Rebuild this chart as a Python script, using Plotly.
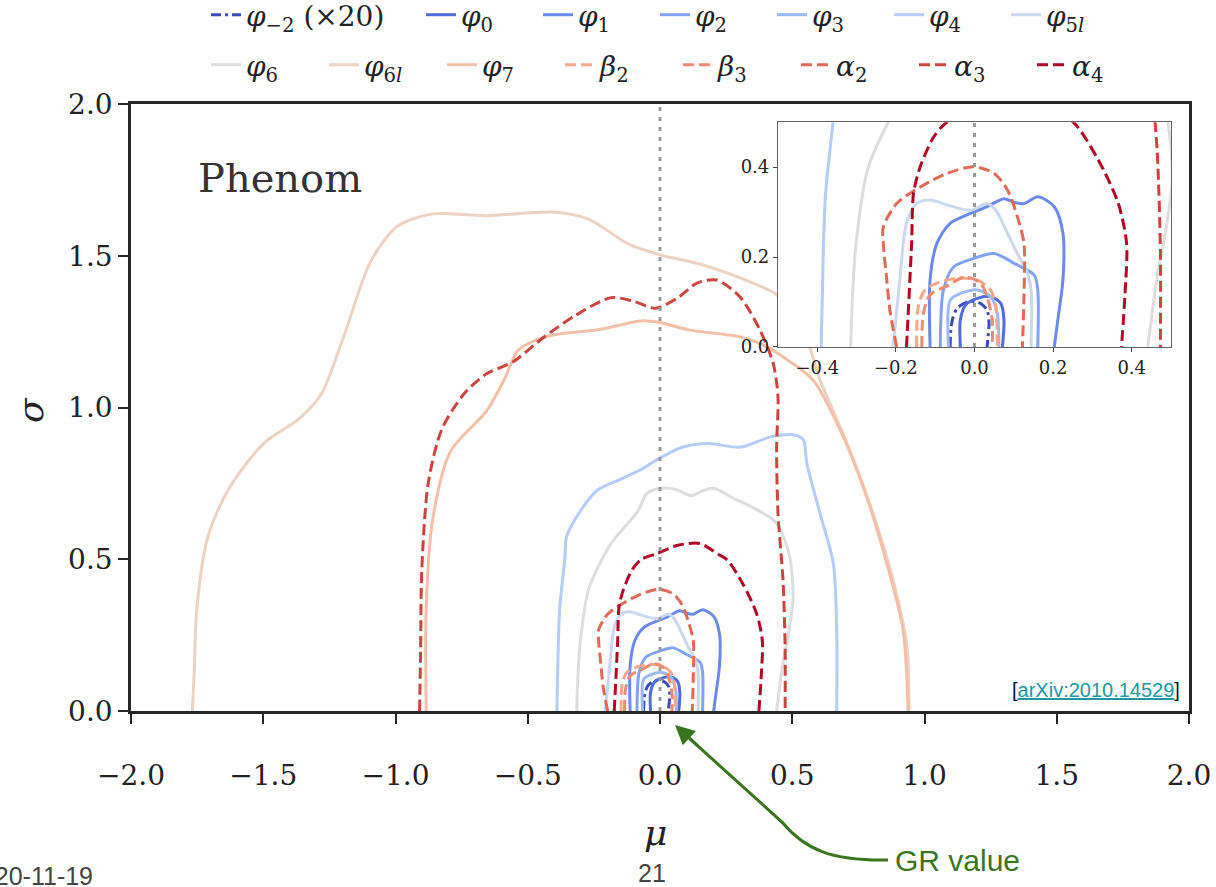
import plotly.graph_objects as go

# ---------------- data ----------------
labels = ["<i>φ</i><sub>−2</sub> (×20)", "<i>φ</i><sub>0</sub>", "<i>φ</i><sub>1</sub>",
          "<i>φ</i><sub>2</sub>", "<i>φ</i><sub>3</sub>", "<i>φ</i><sub>4</sub>",
          "<i>φ</i><sub>5<i>l</i></sub>", "<i>φ</i><sub>6</sub>", "<i>φ</i><sub>6<i>l</i></sub>",
          "<i>φ</i><sub>7</sub>", "<i>β</i><sub>2</sub>", "<i>β</i><sub>3</sub>",
          "<i>α</i><sub>2</sub>", "<i>α</i><sub>3</sub>", "<i>α</i><sub>4</sub>"]

mu_phi_m2 = [-0.062, -0.060, -0.055, -0.044, -0.015, 0.015, 0.032, 0.037, 0.034, 0.032]
sig_phi_m2 = [0.0, 0.040, 0.065, 0.086, 0.101, 0.097, 0.082, 0.053, 0.020, 0.0]

mu_phi0 = [-0.036, -0.036, -0.023, 0.007, 0.041, 0.067, 0.075, 0.071]
sig_phi0 = [0.0, 0.060, 0.093, 0.108, 0.112, 0.097, 0.060, 0.0]

mu_phi1 = [-0.113, -0.113, -0.096, -0.062, -0.010, 0.032, 0.075, 0.100, 0.126, 0.161, 0.203, 0.225, 0.225, 0.212, 0.203]
sig_phi1 = [0.0, 0.149, 0.230, 0.275, 0.297, 0.312, 0.330, 0.322, 0.319, 0.334, 0.312, 0.253, 0.149, 0.060, 0.0]

mu_phi2 = [-0.087, -0.079, -0.053, -0.002, 0.050, 0.101, 0.152, 0.161, 0.161]
sig_phi2 = [0.0, 0.127, 0.178, 0.197, 0.208, 0.186, 0.160, 0.127, 0.0]

mu_phi3 = [-0.066, -0.062, -0.036, 0.007, 0.041, 0.058, 0.062]
sig_phi3 = [0.0, 0.104, 0.119, 0.127, 0.112, 0.075, 0.0]

mu_phi4 = [-0.390, -0.385, -0.379, -0.360, -0.353, -0.302, -0.236, -0.151, -0.067, 0.0, 0.084, 0.185,
           0.302, 0.421, 0.505, 0.542, 0.555, 0.605, 0.655, 0.668, 0.668]
sig_phi4 = [0.0, 0.200, 0.340, 0.500, 0.575, 0.658, 0.728, 0.763, 0.798, 0.834, 0.869, 0.881,
            0.869, 0.904, 0.910, 0.893, 0.816, 0.651, 0.487, 0.267, 0.0]

mu_phi5l = [-0.207, -0.190, -0.173, -0.147, -0.113, -0.070, -0.010, 0.032, 0.054, 0.084, 0.109, 0.135, 0.144, 0.144]
sig_phi5l = [0.0, 0.149, 0.275, 0.319, 0.327, 0.316, 0.304, 0.319, 0.304, 0.253, 0.208, 0.164, 0.127, 0.0]

mu_phi6 = [-0.315, -0.310, -0.302, -0.270, -0.185, -0.084, -0.050, 0.0, 0.060, 0.118, 0.160, 0.202,
           0.280, 0.354, 0.438, 0.488, 0.503, 0.485, 0.465, 0.441]
sig_phi6 = [0.0, 0.120, 0.224, 0.400, 0.552, 0.658, 0.716, 0.734, 0.730, 0.710, 0.725, 0.734,
            0.700, 0.669, 0.622, 0.517, 0.376, 0.250, 0.158, 0.0]

mu_phi6l = [-1.768, -1.760, -1.751, -1.709, -1.633, -1.499, -1.364, -1.280, -1.196, -1.095, -0.993,
            -0.859, -0.657, -0.404, -0.269, -0.118, 0.0, 0.169, 0.354, 0.438, 0.520, 0.567, 0.605,
            0.707, 0.805, 0.881, 0.934, 0.941]
sig_phi6l = [0.0, 0.150, 0.340, 0.575, 0.728, 0.881, 0.963, 1.045, 1.233, 1.479, 1.597,
             1.638, 1.632, 1.644, 1.620, 1.538, 1.503, 1.468, 1.409, 1.374, 1.290, 1.196, 1.091,
             0.883, 0.652, 0.432, 0.211, 0.0]

mu_phi7 = [-0.884, -0.884, -0.859, -0.791, -0.657, -0.589, -0.539, -0.488, -0.404, -0.236, -0.067,
           0.0, 0.113, 0.302, 0.389, 0.465, 0.578, 0.681, 0.781, 0.857, 0.919, 0.938]
sig_phi7 = [0.0, 0.340, 0.634, 0.857, 0.987, 1.092, 1.186, 1.215, 1.239, 1.256, 1.286,
            1.280, 1.255, 1.233, 1.206, 1.167, 1.091, 0.926, 0.706, 0.487, 0.267, 0.0]

mu_beta2 = [-0.147, -0.143, -0.126, -0.087, -0.044, 0.007, 0.041, 0.054, 0.058]
sig_beta2 = [0.0, 0.090, 0.127, 0.145, 0.153, 0.149, 0.127, 0.090, 0.0]

mu_beta3 = [-0.134, -0.130, -0.113, -0.070, -0.023, 0.015, 0.032, 0.045, 0.045]
sig_beta3 = [0.0, 0.075, 0.116, 0.136, 0.156, 0.142, 0.112, 0.060, 0.0]

mu_alpha2 = [-0.198, -0.215, -0.224, -0.232, -0.232, -0.198, -0.138, -0.070, -0.002, 0.050, 0.084,
             0.109, 0.126, 0.126, 0.122]
sig_alpha2 = [0.0, 0.080, 0.156, 0.230, 0.267, 0.319, 0.356, 0.386, 0.401, 0.386, 0.349,
              0.290, 0.230, 0.119, 0.0]

mu_alpha3 = [-0.909, -0.905, -0.901, -0.876, -0.825, -0.741, -0.657, -0.555, -0.437, -0.320, -0.185,
             -0.101, -0.017, 0.068, 0.140, 0.214, 0.302, 0.378, 0.428, 0.446, 0.441, 0.446, 0.465,
             0.473, 0.473]
sig_alpha3 = [0.0, 0.200, 0.458, 0.752, 0.928, 1.045, 1.110, 1.151, 1.233, 1.303, 1.362,
              1.350, 1.327, 1.362, 1.410, 1.420, 1.365, 1.255, 1.145, 1.035, 0.871, 0.652, 0.432,
              0.212, 0.0]

mu_alpha4 = [-0.173, -0.160, -0.155, -0.138, -0.104, -0.070, -0.017, 0.068, 0.151, 0.219, 0.255,
             0.315, 0.366, 0.387, 0.383, 0.374]
sig_alpha4 = [0.0, 0.230, 0.342, 0.401, 0.467, 0.500, 0.517, 0.546, 0.552, 0.517, 0.497,
              0.416, 0.319, 0.230, 0.119, 0.0]

mu_series = [mu_phi_m2, mu_phi0, mu_phi1, mu_phi2, mu_phi3, mu_phi4, mu_phi5l, mu_phi6, mu_phi6l,
             mu_phi7, mu_beta2, mu_beta3, mu_alpha2, mu_alpha3, mu_alpha4]
sig_series = [sig_phi_m2, sig_phi0, sig_phi1, sig_phi2, sig_phi3, sig_phi4, sig_phi5l, sig_phi6,
              sig_phi6l, sig_phi7, sig_beta2, sig_beta3, sig_alpha2, sig_alpha3, sig_alpha4]

x_ticks = [-2.0, -1.5, -1.0, -0.5, 0.0, 0.5, 1.0, 1.5, 2.0]
y_ticks = [0.0, 0.5, 1.0, 1.5, 2.0]
inset_x_ticks = [-0.4, -0.2, 0.0, 0.2, 0.4]
inset_y_ticks = [0.0, 0.2, 0.4]

# ---------------- styling ----------------
_cw = [(59, 76, 192), (68, 90, 204), (77, 104, 215), (87, 117, 225), (98, 130, 234), (108, 142, 241),
       (119, 154, 247), (130, 165, 251), (141, 176, 254), (152, 185, 255), (163, 194, 255),
       (174, 201, 253), (184, 208, 249), (194, 213, 244), (204, 217, 238), (213, 219, 230),
       (221, 221, 221), (229, 216, 209), (236, 211, 197), (241, 204, 184), (245, 196, 172),
       (247, 187, 159), (247, 177, 147), (247, 166, 134), (244, 154, 123), (241, 141, 111),
       (236, 127, 99), (229, 112, 88), (222, 96, 77), (213, 80, 66), (203, 62, 56), (192, 40, 47),
       (180, 4, 38)]


def coolwarm(t):
    p = t * (len(_cw) - 1)
    i = min(int(p), len(_cw) - 2)
    f = p - i
    c = [round(_cw[i][k] + f * (_cw[i + 1][k] - _cw[i][k])) for k in range(3)]
    return "rgb(%d,%d,%d)" % tuple(c)


n = len(labels)
colors = [coolwarm(i / (n - 1)) for i in range(n)]
dashes = ["10px,4px,3px,4px"] + ["solid"] * 9 + ["11px,5px"] * 5
legend_ids = ["legend"] + ["legend2"] * 6 + ["legend3"] * 8

SERIF = "DejaVu Serif"
SANS = "Liberation Sans"

fig = go.Figure()
for i in range(n):
    fig.add_trace(go.Scatter(x=mu_series[i], y=sig_series[i], mode="lines", name=labels[i],
                             line=dict(color=colors[i], width=3, dash=dashes[i], shape="spline",
                                       smoothing=0.8),
                             legend=legend_ids[i], xaxis="x", yaxis="y", hoverinfo="skip"))
for i in range(n):
    fig.add_trace(go.Scatter(x=mu_series[i], y=sig_series[i], mode="lines", showlegend=False,
                             line=dict(color=colors[i], width=3, dash=dashes[i], shape="spline",
                                       smoothing=0.8),
                             xaxis="x2", yaxis="y2", hoverinfo="skip"))

# GR reference lines (mu = 0)
fig.add_trace(go.Scatter(x=[0, 0], y=[0, 2], mode="lines", showlegend=False,
                         line=dict(color="#9a9a9a", width=3, dash="4px,6px"), xaxis="x", yaxis="y"))
fig.add_trace(go.Scatter(x=[0, 0], y=[0, 0.5], mode="lines", showlegend=False,
                         line=dict(color="#9a9a9a", width=3, dash="4px,6px"), xaxis="x2", yaxis="y2"))

axis_col = "#262626"
fig.update_layout(
    width=1216, height=887,
    margin=dict(l=131, r=27, t=104, b=176, autoexpand=False),
    paper_bgcolor="white", plot_bgcolor="white",
    font=dict(family=SERIF, color="#222"),
    xaxis=dict(domain=[0, 1], range=[-2, 2], tickvals=x_ticks, tickformat=".1f", automargin=False,
               showgrid=False, zeroline=False, showline=True, mirror=True,
               linecolor=axis_col, linewidth=2.5, ticks="outside", ticklen=10, tickwidth=2,
               tickcolor=axis_col, tickfont=dict(family=SERIF, size=28, color="#222"),
               ticklabelstandoff=28),
    yaxis=dict(domain=[0, 1], range=[0, 2], tickvals=y_ticks, tickformat=".1f", automargin=False,
               showgrid=False, zeroline=False, showline=True, mirror=True,
               linecolor=axis_col, linewidth=2.5, ticks="outside", ticklen=10, tickwidth=2,
               tickcolor=axis_col, tickfont=dict(family=SERIF, size=28, color="#222")),
    xaxis2=dict(domain=[0.6115, 0.983], anchor="y2", range=[-0.5, 0.5], tickvals=inset_x_ticks,
                tickformat=".1f", showgrid=False, zeroline=False, showline=True, mirror=True,
                automargin=False,
                linecolor="#666", linewidth=1.2, ticks="outside", ticklen=4, tickwidth=1,
                tickcolor="#444", tickfont=dict(family=SERIF, size=18, color="#222")),
    yaxis2=dict(domain=[0.5997, 0.970], anchor="x2", range=[0, 0.5], tickvals=inset_y_ticks,
                tickformat=".1f", showgrid=False, zeroline=False, showline=True, mirror=True,
                automargin=False,
                linecolor="#666", linewidth=1.2, ticks="outside", ticklen=4, tickwidth=1,
                tickcolor="#444", tickfont=dict(family=SERIF, size=18, color="#222")),
)

leg_common = dict(orientation="h", xanchor="left", yanchor="middle", bgcolor="rgba(0,0,0,0)",
                  xref="container", yref="container",
                  font=dict(family=SERIF, size=28, color="#222"), entrywidthmode="pixels")
fig.update_layout(
    legend=dict(x=206 / 1216, y=1 - 15 / 887, entrywidth=160, **leg_common),
    legend2=dict(x=421 / 1216, y=1 - 15 / 887, entrywidth=72, **leg_common),
    legend3=dict(x=206 / 1216, y=1 - 65 / 887, entrywidth=73, **leg_common),
)


def px2paper(px, py):
    return (px - 131) / 1058.0, (711 - py) / 607.0


def note(px, py, text, size, family, color, xanchor="center", **kw):
    fx, fy = px2paper(px, py)
    return dict(x=fx, y=fy, xref="paper", yref="paper", text=text, showarrow=False,
                xanchor=xanchor, yanchor="middle", font=dict(family=family, size=size, color=color),
                **kw)


annotations = [
    note(280, 178, "Phenom", 40, SERIF, "#333"),
    note(655, 832, "<i>μ</i>", 36, SERIF, "#222"),
    note(30, 410, "<i>σ</i>", 36, SERIF, "#222", textangle=-90),
    note(1182, 690, "[<span style='color:#1a98a6;text-decoration:underline'>arXiv:2010.14529</span>]",
         20, SANS, "#111", xanchor="right"),
    note(893, 860, "GR value", 30, SANS, "#38761d", xanchor="left"),
    note(652, 873, "21", 25, SANS, "#444"),
    note(95, 876, "2020-11-19", 25, SANS, "#444", xanchor="right"),
]
# arrowhead only (short arrow overlapping the drawn path)
fx, fy = px2paper(675, 725)
annotations.append(dict(x=fx, y=fy, xref="paper", yref="paper", text="", showarrow=True,
                        ax=24, ay=22, axref="pixel", ayref="pixel", arrowhead=2, arrowsize=1.3,
                        arrowwidth=3, arrowcolor="#38761d", standoff=0))
fig.update_layout(annotations=annotations)

# curved arrow shaft from the label towards the GR value
p0 = px2paper(888, 860)
p1 = px2paper(832, 861)
p2 = px2paper(805, 850)
p3 = px2paper(782, 822)
p4 = px2paper(690, 739)
path = "M %.4f,%.4f C %.4f,%.4f %.4f,%.4f %.4f,%.4f L %.4f,%.4f" % (p0 + p1 + p2 + p3 + p4)
fig.add_shape(type="path", xref="paper", yref="paper", path=path,
              line=dict(color="#38761d", width=3))

fig.write_html("out.html")
